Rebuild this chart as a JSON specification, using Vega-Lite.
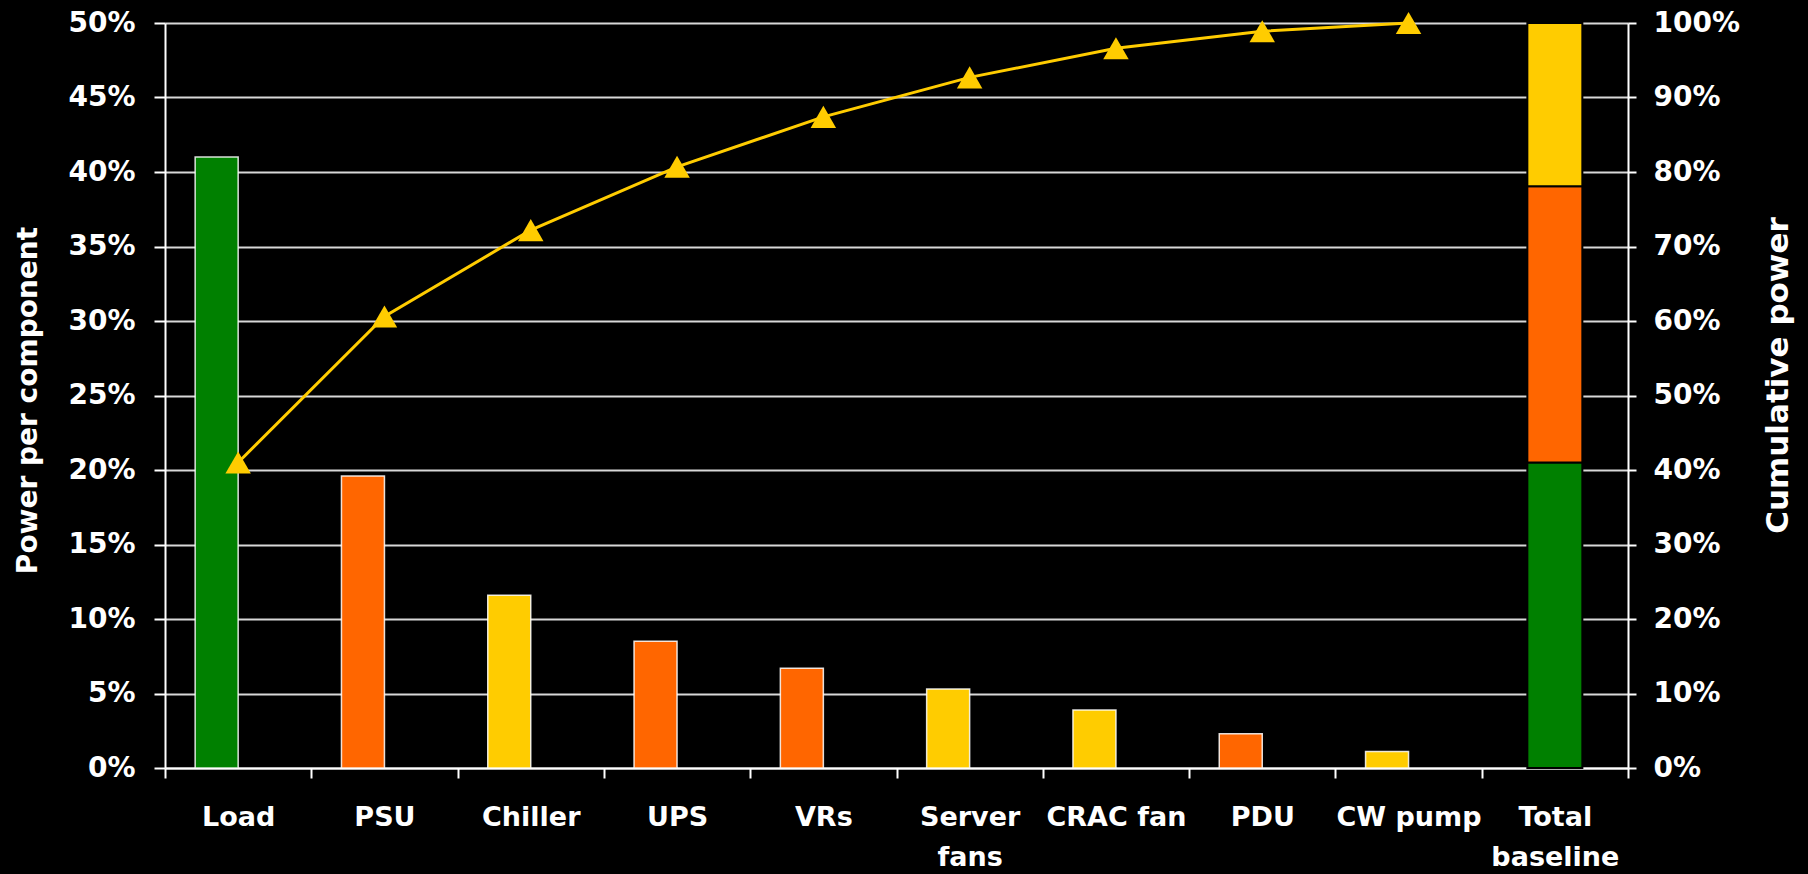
{
  "$schema": "https://vega.github.io/schema/vega-lite/v6.json",
  "width": 1463,
  "height": 745,
  "autosize": {"type": "none"},
  "padding": {"left": 165, "top": 23, "right": 180, "bottom": 106},
  "background": "#000000",
  "config": {
    "view": {"stroke": null},
    "axis": {
      "labelFont": "DejaVu Sans",
      "labelFontWeight": "bold",
      "labelColor": "#FFFFFF",
      "titleFont": "DejaVu Sans",
      "titleFontWeight": "bold",
      "titleColor": "#FFFFFF",
      "domainColor": "#FFFFFF",
      "domainWidth": 2,
      "tickColor": "#FFFFFF",
      "tickWidth": 2,
      "gridColor": "#D8D8D8",
      "gridWidth": 2,
      "gridOpacity": 1
    }
  },
  "datasets": {
    "components": [
      {"component": "Load", "type": "IT load", "share": 0.41, "cumulative": 0.41},
      {"component": "PSU", "type": "Power delivery", "share": 0.196, "cumulative": 0.606},
      {"component": "Chiller", "type": "Cooling", "share": 0.116, "cumulative": 0.722},
      {"component": "UPS", "type": "Power delivery", "share": 0.085, "cumulative": 0.807},
      {"component": "VRs", "type": "Power delivery", "share": 0.067, "cumulative": 0.874},
      {"component": "Server fans", "type": "Cooling", "share": 0.053, "cumulative": 0.927},
      {"component": "CRAC fan", "type": "Cooling", "share": 0.039, "cumulative": 0.966},
      {"component": "PDU", "type": "Power delivery", "share": 0.023, "cumulative": 0.989},
      {"component": "CW pump", "type": "Cooling", "share": 0.011, "cumulative": 1.0}
    ],
    "total": [
      {"component": "Total baseline", "type": "IT load", "share": 0.41, "stack": 1},
      {"component": "Total baseline", "type": "Power delivery", "share": 0.371, "stack": 2},
      {"component": "Total baseline", "type": "Cooling", "share": 0.219, "stack": 3}
    ]
  },
  "encoding": {
    "x": {
      "field": "component",
      "type": "nominal",
      "scale": {
        "domain": ["Load", "PSU", "Chiller", "UPS", "VRs", "Server fans", "CRAC fan", "PDU", "CW pump", "Total baseline"],
        "paddingInner": 0,
        "paddingOuter": 0
      },
      "axis": {
        "title": null,
        "labelAngle": 0,
        "labelFontSize": 27,
        "labelLineHeight": 40,
        "labelBaseline": "top",
        "labelPadding": 26,
        "tickSize": 10,
        "tickBand": "extent",
        "labelExpr": "datum.value == 'Server fans' ? ['Server', 'fans'] : datum.value == 'Total baseline' ? ['Total', 'baseline'] : datum.label"
      }
    }
  },
  "layer": [
    {
      "data": {"name": "components"},
      "mark": {"type": "bar", "width": 43, "xOffset": -21.5, "stroke": "#FFFFFF", "strokeWidth": 1.5, "strokeOpacity": 0.85},
      "encoding": {
        "y": {
          "field": "share",
          "type": "quantitative",
          "scale": {"domain": [0, 0.5], "nice": false},
          "axis": {
            "orient": "left",
            "title": "Power per component",
            "titleFontSize": 28,
            "titleAngle": 270,
            "titleBaseline": "middle",
            "titleX": -137,
            "titleY": 377,
            "format": ".0%",
            "values": [0, 0.05, 0.1, 0.15, 0.2, 0.25, 0.3, 0.35, 0.4, 0.45, 0.5],
            "grid": true,
            "labelFontSize": 28,
            "tickSize": 11,
            "labelPadding": 19
          }
        },
        "color": {
          "field": "type",
          "type": "nominal",
          "scale": {"domain": ["IT load", "Power delivery", "Cooling"], "range": ["#008000", "#FF6600", "#FFCC00"]},
          "legend": null
        }
      }
    },
    {
      "data": {"name": "total"},
      "mark": {"type": "bar", "width": 55, "stroke": "#000000", "strokeWidth": 2},
      "encoding": {
        "y": {
          "field": "share",
          "type": "quantitative",
          "stack": "zero",
          "scale": {"domain": [0, 1], "nice": false},
          "axis": null
        },
        "order": {"field": "stack", "type": "quantitative"},
        "color": {
          "field": "type",
          "type": "nominal",
          "scale": {"domain": ["IT load", "Power delivery", "Cooling"], "range": ["#008000", "#FF6600", "#FFCC00"]},
          "legend": null
        }
      }
    },
    {
      "data": {"name": "components"},
      "mark": {"type": "line", "color": "#FFCC00", "strokeWidth": 3},
      "encoding": {
        "y": {
          "field": "cumulative",
          "type": "quantitative",
          "scale": {"domain": [0, 1], "nice": false},
          "axis": {
            "orient": "right",
            "title": "Cumulative power",
            "titleFontSize": 31,
            "titleAngle": 270,
            "titleBaseline": "middle",
            "titleX": 150,
            "titleY": 352,
            "format": ".0%",
            "values": [0, 0.1, 0.2, 0.3, 0.4, 0.5, 0.6, 0.7, 0.8, 0.9, 1.0],
            "grid": false,
            "labelFontSize": 28,
            "tickSize": 8,
            "labelPadding": 17
          }
        }
      }
    },
    {
      "data": {"name": "components"},
      "mark": {"type": "point", "shape": "triangle-up", "filled": true, "size": 650, "color": "#FFCC00", "opacity": 1},
      "encoding": {
        "y": {
          "field": "cumulative",
          "type": "quantitative",
          "scale": {"domain": [0, 1], "nice": false},
          "axis": null
        }
      }
    }
  ],
  "resolve": {"scale": {"y": "independent"}}
}
